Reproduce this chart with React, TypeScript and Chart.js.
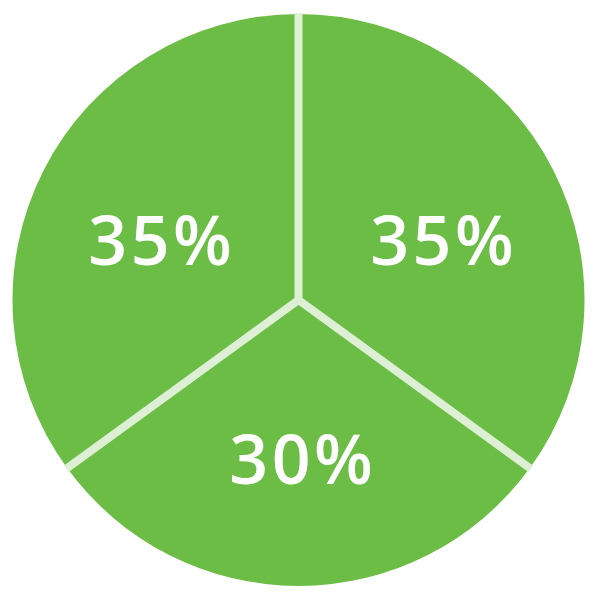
import React, { useEffect, useRef } from "react";
import { Chart, registerables } from "chart.js";

Chart.register(...registerables);

const categories = ["A", "B", "C"];
const values = [35, 30, 35];
const sliceColor = "#6cbd45";
const separatorColor = "#ddefd5";

const overlayPlugin = {
  id: "overlay",
  afterDatasetsDraw(chart: any) {
    const meta = chart.getDatasetMeta(0);
    const ctx = chart.ctx;
    const total = values.reduce((a, b) => a + b, 0);
    ctx.save();
    // separators
    ctx.strokeStyle = separatorColor;
    ctx.lineWidth = 8;
    ctx.lineCap = "butt";
    meta.data.forEach((arc: any) => {
      const { x, y, startAngle, outerRadius } = arc.getProps(["x", "y", "startAngle", "outerRadius"], true);
      ctx.beginPath();
      ctx.moveTo(x, y);
      ctx.lineTo(x + Math.cos(startAngle) * (outerRadius + 1), y + Math.sin(startAngle) * (outerRadius + 1));
      ctx.stroke();
    });
    const a0 = meta.data[0];
    ctx.fillStyle = separatorColor;
    ctx.beginPath();
    ctx.arc(a0.x, a0.y, 4, 0, Math.PI * 2);
    ctx.fill();
    // labels
    const fontSize = 68;
    const spacing = 3.5;
    ctx.font = `600 ${fontSize}px "Open Sans"`;
    (ctx as any).letterSpacing = `${spacing}px`;
    ctx.fillStyle = "#ffffff";
    ctx.textAlign = "center";
    ctx.textBaseline = "alphabetic";
    const capH = fontSize * 0.714;
    meta.data.forEach((arc: any, i: number) => {
      const { x, y, startAngle, endAngle, outerRadius } = arc.getProps(["x", "y", "startAngle", "endAngle", "outerRadius"], true);
      const mid = (startAngle + endAngle) / 2;
      const lx = x + Math.cos(mid) * outerRadius * 0.553 + 2.5 + spacing / 2;
      const ly = y + Math.sin(mid) * outerRadius * 0.527 + 9.4;
      const pct = Math.round((values[i] / total) * 100);
      ctx.fillText(`${pct}%`, lx, ly + capH / 2);
    });
    ctx.restore();
  },
};

export default function App() {
  const ref = useRef<HTMLCanvasElement>(null);
  useEffect(() => {
    document.body.style.margin = "0";
    const chart = new Chart(ref.current!, {
      type: "pie",
      data: {
        labels: categories,
        datasets: [
          {
            data: values,
            backgroundColor: values.map(() => sliceColor),
            borderWidth: 0,
          },
        ],
      },
      options: {
        animation: false,
        responsive: false,
        maintainAspectRatio: false,
        layout: { padding: { left: 12.5, right: 15.5, top: 14, bottom: 14 } },
        plugins: { legend: { display: false }, tooltip: { enabled: false } },
      },
      plugins: [overlayPlugin],
    });
    return () => chart.destroy();
  }, []);
  return (
    <div style={{ position: "absolute", left: 0, top: 0, width: 600, height: 600 }}>
      <canvas ref={ref} width={600} height={600} style={{ width: 600, height: 600 }} />
    </div>
  );
}
